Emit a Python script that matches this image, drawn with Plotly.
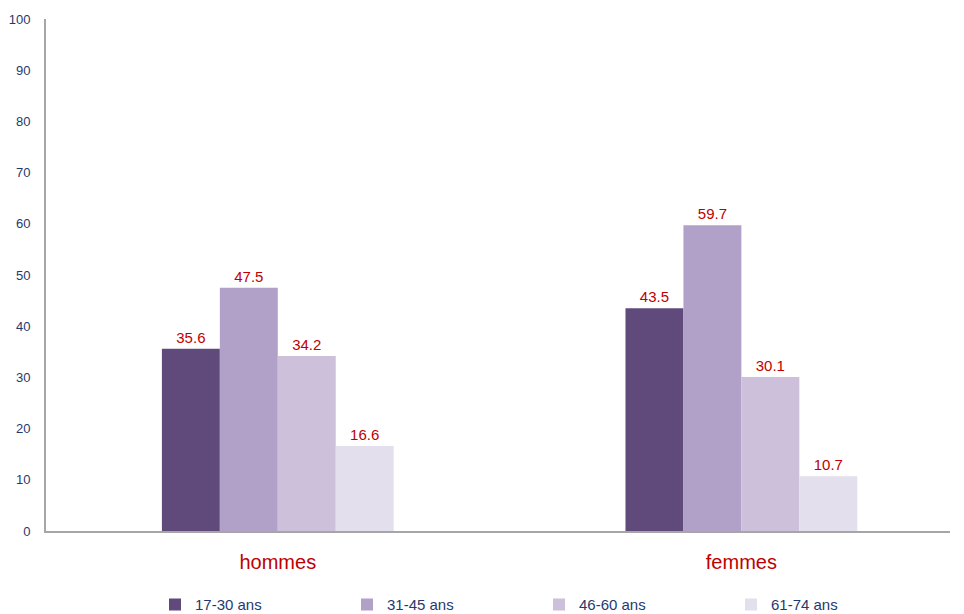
import plotly.graph_objects as go

categories = ["hommes", "femmes"]
series_names = ["17-30 ans", "31-45 ans", "46-60 ans", "61-74 ans"]
v_17_30 = [35.6, 43.5]
v_31_45 = [47.5, 59.7]
v_46_60 = [34.2, 30.1]
v_61_74 = [16.6, 10.7]
y_ticks = [0, 10, 20, 30, 40, 50, 60, 70, 80, 90, 100]

colors = ["#604A7B", "#B1A0C7", "#CCC0DA", "#E4DFEC"]
values = [v_17_30, v_31_45, v_46_60, v_61_74]

font_family = "Liberation Sans, Arial, sans-serif"
fig = go.Figure()
for name, vals, c in zip(series_names, values, colors):
    fig.add_trace(go.Bar(
        x=categories, y=vals, name=name, marker=dict(color=c, line=dict(width=0)),
        text=[f"{v:.1f}" for v in vals], textposition="outside",
        textfont=dict(color="#C00000", size=15, family=font_family),
        cliponaxis=False,
    ))

W, H = 964, 614
ml, mt, mr, mb = 38, 11, 22, 91
fig.update_layout(
    width=W, height=H,
    margin=dict(l=ml, r=mr, t=mt, b=mb, autoexpand=False),
    paper_bgcolor="white", plot_bgcolor="white",
    barmode="group", bargap=0.5, bargroupgap=0,
    font=dict(family=font_family),
    showlegend=True,
    legend=dict(orientation="h", x=109 / (W - ml - mr), xref="paper", xanchor="left",
                y=0.028, yref="container", yanchor="middle",
                entrywidth=147, entrywidthmode="pixels",
                font=dict(color="#1F3A6E", size=15, family=font_family),
                itemclick=False, traceorder="normal"),
    xaxis=dict(range=[-0.5, 1.45], showline=True, linecolor="#A6A6A6", linewidth=2,
               ticks="", tickfont=dict(color="#C00000", size=20, family=font_family),
               ticklabelstandoff=12, showgrid=False, zeroline=False, automargin=False),
    yaxis=dict(range=[0, 100], tickvals=y_ticks, showline=True, linecolor="#A6A6A6",
               linewidth=2, ticks="", showgrid=False, zeroline=False, automargin=False,
               tickfont=dict(color="#1F3A6E", size=13, family=font_family),
               ticklabelstandoff=11),
)

fig.write_html("out.html")
